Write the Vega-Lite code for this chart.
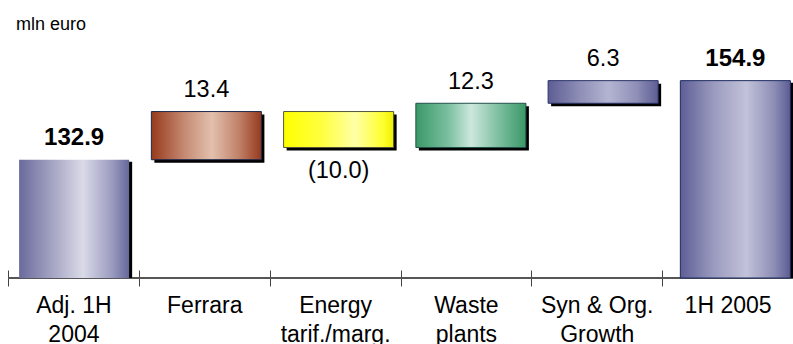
{
  "$schema": "https://vega.github.io/schema/vega-lite/v6.json",
  "width": 785,
  "height": 238,
  "autosize": {"type": "none"},
  "padding": {"left": 8, "top": 40, "right": 0, "bottom": 66},
  "background": "white",
  "config": {
    "view": {"stroke": null},
    "font": "Liberation Sans",
    "text": {"font": "Liberation Sans", "color": "#000000"}
  },
  "title": {
    "text": "mln euro",
    "anchor": "start",
    "frame": "group",
    "font": "Liberation Sans",
    "fontSize": 18,
    "fontWeight": "normal",
    "color": "#000000",
    "baseline": "alphabetic",
    "offset": 12,
    "dx": 8,
    "dy": 20
  },
  "data": {
    "values": [
      {"step": "Adj. 1H\n2004", "kind": "total", "amount": 132.9, "start": null},
      {"step": "Ferrara", "kind": "delta", "amount": 13.4, "start": 132.9},
      {"step": "Energy\ntarif./marg.", "kind": "delta", "amount": -10.0, "start": 146.3},
      {"step": "Waste\nplants", "kind": "delta", "amount": 12.3, "start": 136.3},
      {"step": "Syn & Org.\nGrowth", "kind": "delta", "amount": 6.3, "start": 148.6},
      {"step": "1H 2005", "kind": "total", "amount": 154.9, "start": null}
    ]
  },
  "transform": [
    {"calculate": "datum.kind == 'total' ? datum.amount : datum.start + datum.amount", "as": "end"},
    {"calculate": "datum.amount < 0 ? '(' + format(-datum.amount, '.1f') + ')' : format(datum.amount, '.1f')", "as": "txt"}
  ],
  "layer": [
    {
      "mark": {"type": "rule", "color": "#555555", "strokeWidth": 1},
      "encoding": {
        "y": {"datum": 100, "type": "quantitative", "scale": {"domain": [100, 166.2], "nice": false, "zero": false}, "axis": null}
      }
    },
    {
      "mark": {"type": "text", "text": ""},
      "encoding": {
        "x": {
          "field": "step",
          "type": "nominal",
          "sort": ["Adj. 1H\n2004", "Ferrara", "Energy\ntarif./marg.", "Waste\nplants", "Syn & Org.\nGrowth", "1H 2005"],
          "scale": {"paddingInner": 0, "paddingOuter": 0},
          "axis": {
            "title": null,
            "domain": false,
            "tickBand": "extent",
            "offset": -8,
            "tickSize": 16,
            "tickColor": "#444444",
            "tickWidth": 1,
            "labelAngle": 0,
            "labelFont": "Liberation Sans",
            "labelFontSize": 23,
            "labelColor": "#000000",
            "labelPadding": 8,
            "labelLineHeight": 29,
            "labelLimit": 0,
            "labelOverlap": false,
            "labelBound": false,
            "labelExpr": "split(datum.label, '\\n')"
          }
        }
      }
    },
    {
      "encoding": {
        "x": {
          "field": "step",
          "type": "nominal",
          "scale": {
            "domain": ["Adj. 1H\n2004", "Ferrara", "Energy\ntarif./marg.", "Waste\nplants", "Syn & Org.\nGrowth", "1H 2005"],
            "range": [0, 793.5],
            "paddingInner": 0,
            "paddingOuter": 0
          },
          "axis": null
        }
      },
      "layer": [
        {
          "transform": [{"filter": "datum.kind == 'total'"}],
          "mark": {"type": "bar", "width": {"band": 0.832}, "fill": "#000000", "xOffset": 3, "yOffset": 2},
          "encoding": {
            "y": {"field": "end", "type": "quantitative", "scale": {"domain": [100, 166.2], "nice": false, "zero": false}, "axis": null},
            "y2": {"datum": 100}
          }
        },
        {
          "transform": [{"filter": "datum.kind == 'delta'"}],
          "mark": {"type": "bar", "width": {"band": 0.832}, "fill": "#000000", "xOffset": 3, "yOffset": 3, "y2Offset": 3},
          "encoding": {
            "y": {"field": "start", "type": "quantitative", "scale": {"domain": [100, 166.2], "nice": false, "zero": false}, "axis": null},
            "y2": {"field": "end"}
          }
        },
        {
          "transform": [{"filter": "test(/^Adj/, datum.step)"}],
          "mark": {
            "type": "bar",
            "width": {"band": 0.832},
            "fill": {"gradient": "linear", "x1": 0, "x2": 1, "y1": 0, "y2": 0,
              "stops": [
                {"offset": 0, "color": "#6a6a9c"},
                {"offset": 0.3, "color": "#a4a4c4"},
                {"offset": 0.58, "color": "#dadae8"},
                {"offset": 0.85, "color": "#9a9abf"},
                {"offset": 1, "color": "#66669a"}
              ]}
          },
          "encoding": {
            "y": {"field": "end", "type": "quantitative"},
            "y2": {"datum": 100}
          }
        },
        {
          "transform": [{"filter": "datum.step == '1H 2005'"}],
          "mark": {
            "type": "bar",
            "width": {"band": 0.832},
            "stroke": "#1d2c5e",
            "strokeWidth": 1,
            "fill": {"gradient": "linear", "x1": 0, "x2": 1, "y1": 0, "y2": 0,
              "stops": [
                {"offset": 0, "color": "#5e5e96"},
                {"offset": 0.3, "color": "#9a9abe"},
                {"offset": 0.6, "color": "#c2c2da"},
                {"offset": 0.85, "color": "#8e8eb6"},
                {"offset": 1, "color": "#5c5c94"}
              ]}
          },
          "encoding": {
            "y": {"field": "end", "type": "quantitative"},
            "y2": {"datum": 100}
          }
        },
        {
          "transform": [{"filter": "datum.step == 'Ferrara'"}],
          "mark": {
            "type": "bar",
            "width": {"band": 0.832},
            "stroke": "#1c2a50",
            "strokeWidth": 1,
            "fill": {"gradient": "linear", "x1": 0, "x2": 1, "y1": 0, "y2": 0,
              "stops": [
                {"offset": 0, "color": "#973a1c"},
                {"offset": 0.3, "color": "#c58a72"},
                {"offset": 0.55, "color": "#e2c0ad"},
                {"offset": 0.8, "color": "#c08068"},
                {"offset": 1, "color": "#963a1e"}
              ]}
          },
          "encoding": {
            "y": {"field": "start", "type": "quantitative"},
            "y2": {"field": "end"}
          }
        },
        {
          "transform": [{"filter": "test(/^Energy/, datum.step)"}],
          "mark": {
            "type": "bar",
            "width": {"band": 0.832},
            "stroke": "#55553a",
            "strokeWidth": 1,
            "fill": {"gradient": "linear", "x1": 0, "x2": 1, "y1": 0, "y2": 0,
              "stops": [
                {"offset": 0, "color": "#ffff00"},
                {"offset": 0.35, "color": "#ffff40"},
                {"offset": 0.65, "color": "#ffffa6"},
                {"offset": 0.9, "color": "#ffff30"},
                {"offset": 1, "color": "#f0f000"}
              ]}
          },
          "encoding": {
            "y": {"field": "start", "type": "quantitative"},
            "y2": {"field": "end"}
          }
        },
        {
          "transform": [{"filter": "test(/^Waste/, datum.step)"}],
          "mark": {
            "type": "bar",
            "width": {"band": 0.832},
            "stroke": "#22504a",
            "strokeWidth": 1,
            "fill": {"gradient": "linear", "x1": 0, "x2": 1, "y1": 0, "y2": 0,
              "stops": [
                {"offset": 0, "color": "#3a9868"},
                {"offset": 0.3, "color": "#7cc0a0"},
                {"offset": 0.5, "color": "#cde8dd"},
                {"offset": 0.75, "color": "#7ebfa0"},
                {"offset": 1, "color": "#3a9868"}
              ]}
          },
          "encoding": {
            "y": {"field": "start", "type": "quantitative"},
            "y2": {"field": "end"}
          }
        },
        {
          "transform": [{"filter": "test(/^Syn/, datum.step)"}],
          "mark": {
            "type": "bar",
            "width": {"band": 0.832},
            "stroke": "#2a3466",
            "strokeWidth": 1,
            "fill": {"gradient": "linear", "x1": 0, "x2": 1, "y1": 0, "y2": 0,
              "stops": [
                {"offset": 0, "color": "#5d5d94"},
                {"offset": 0.3, "color": "#9090b8"},
                {"offset": 0.55, "color": "#b4b4d2"},
                {"offset": 0.8, "color": "#9090b8"},
                {"offset": 1, "color": "#5d5d94"}
              ]}
          },
          "encoding": {
            "y": {"field": "start", "type": "quantitative"},
            "y2": {"field": "end"}
          }
        },
        {
          "transform": [{"filter": "datum.kind == 'total'"}],
          "mark": {"type": "text", "baseline": "alphabetic", "dy": -15, "fontSize": 24, "fontWeight": "bold"},
          "encoding": {
            "y": {"field": "end", "type": "quantitative"},
            "text": {"field": "txt"}
          }
        },
        {
          "transform": [{"filter": "datum.kind == 'delta' && datum.amount >= 0"}],
          "mark": {"type": "text", "baseline": "alphabetic", "dy": -14.5, "fontSize": 23.5},
          "encoding": {
            "y": {"field": "end", "type": "quantitative"},
            "text": {"field": "txt"}
          }
        },
        {
          "transform": [{"filter": "datum.kind == 'delta' && datum.amount < 0"}],
          "mark": {"type": "text", "baseline": "alphabetic", "dy": 31, "fontSize": 23.5},
          "encoding": {
            "y": {"field": "end", "type": "quantitative"},
            "text": {"field": "txt"}
          }
        }
      ]
    }
  ],
  "resolve": {"scale": {"x": "independent"}, "axis": {"x": "independent"}}
}
